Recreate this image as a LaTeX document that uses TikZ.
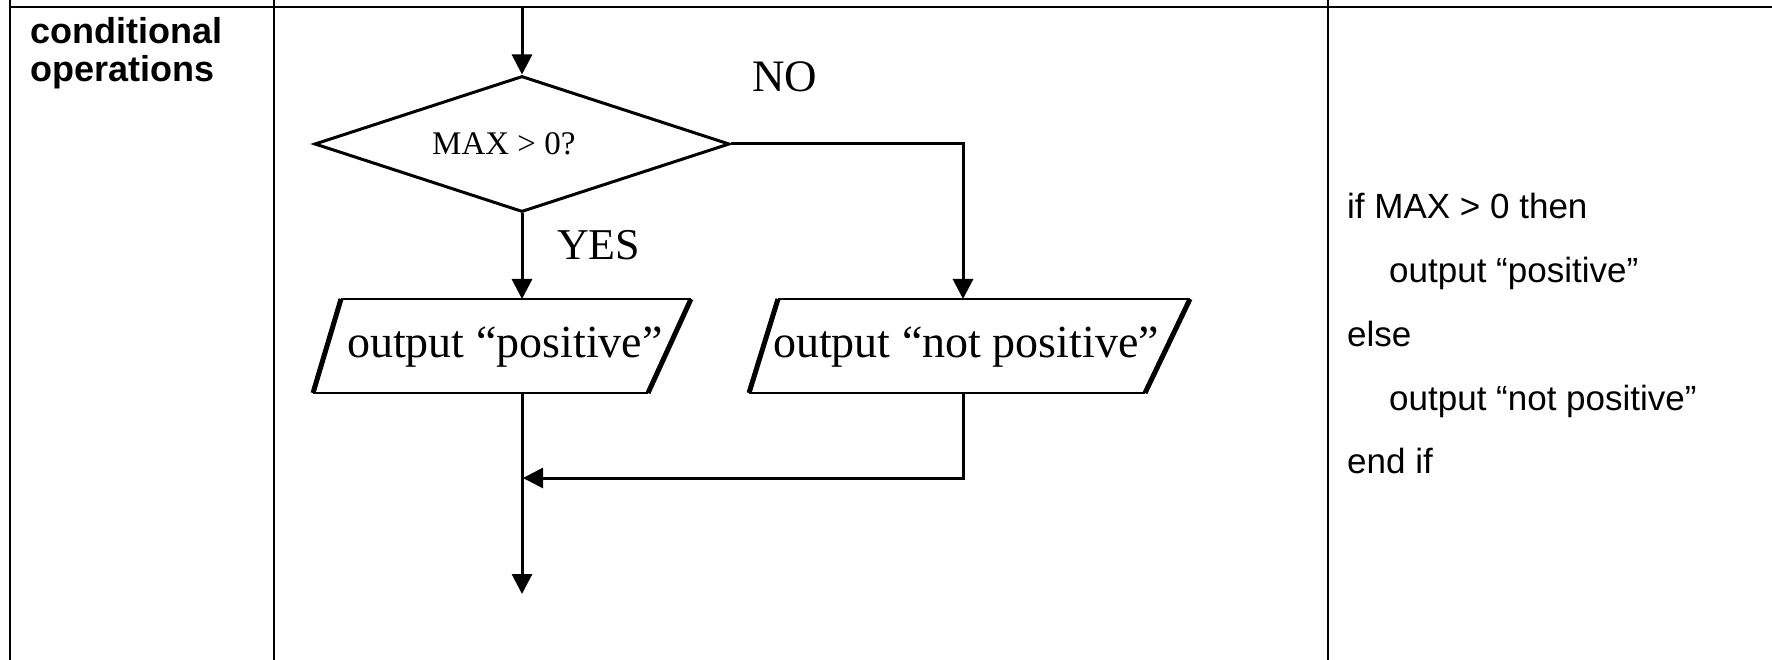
\documentclass[tikz,border=0pt]{standalone}
\usepackage{fontspec}
\setmainfont{Liberation Serif}
\newfontfamily\sansf{Liberation Sans}
\usetikzlibrary{arrows.meta,shapes.geometric}
\begin{document}
\begin{tikzpicture}[x=1pt,y=-1pt,
  rule/.style={line width=2pt, black},
  flow/.style={line width=3pt},
  arr/.style={flow, -{Triangle[length=20pt,width=20pt]}},
  boxedge/.style={line width=2.8pt},
  boxside/.style={line width=5pt},
  txt/.style={inner sep=0pt, anchor=base west},
  celltitle/.style={txt, font=\sansf\bfseries\fontsize{36}{40}\selectfont},
  code/.style={txt, font=\sansf\fontsize{35}{40}\selectfont},
  flowtext/.style={txt, font=\fontsize{46}{50}\selectfont},
  branch/.style={txt, font=\fontsize{44}{48}\selectfont},
]
\fill[white] (0,0) rectangle (1772,660);
\useasboundingbox (0,0) rectangle (1772,660);

% table rules
\draw[rule] (10,7.5) -- (1772,7.5);
\draw[rule] (10,0) -- (10,660);
\draw[rule] (274,0) -- (274,660);
\draw[rule] (1328,0) -- (1328,660);

% left cell
\node[celltitle] (t1) at (30,44) {conditional};
\node[celltitle] (t2) at (30,82) {operations};

% flowchart
\coordinate (entry) at (522,8);
\node[diamond, draw, flow, minimum width=415pt, minimum height=136pt, inner sep=0pt] (dec) at (522,144) {};
\node[txt, font=\fontsize{33}{38}\selectfont] (cond) at (432,155) {MAX > 0?};

% output boxes: outlines with heavier slanted sides
\draw[boxedge] (341,299) -- (691,299);
\draw[boxedge] (313,393) -- (648,393);
\draw[boxside] (313,393) -- (341,299);
\draw[boxside] (648,393) -- (691,299);
\node[flowtext] (pos) at (347,357) {output “positive”};

\draw[boxedge] (778,299) -- (1190,299);
\draw[boxedge] (749,393) -- (1145,393);
\draw[boxside] (749,393) -- (778,299);
\draw[boxside] (1145,393) -- (1190,299);
\node[flowtext] (neg) at (773,357) {output “not positive”};

\coordinate (posin) at (522,299);
\coordinate (posout) at (522,393);
\coordinate (negin) at (963,299);
\coordinate (negout) at (963,393);
\coordinate (join) at (523,478);
\coordinate (exit) at (522,594);

\draw[arr] (entry) -- (dec.north);
\draw[arr] (dec.south) -- (posin);
\draw[arr] (dec.east) -| (negin);
\draw[arr] (negout) |- (join);
\draw[arr] (posout) -- (exit);

\node[branch] (yes) at (557,260) {YES};
\node[branch, font=\fontsize{45}{48}\selectfont] (no) at (752,92) {NO};

% pseudocode cell
\node[code] (c1) at (1347,219) {if MAX > 0 then};
\node[code] (c2) at (1389,283) {output “positive”};
\node[code] (c3) at (1347,346) {else};
\node[code] (c4) at (1389,410) {output “not positive”};
\node[code] (c5) at (1347,473) {end if};
\end{tikzpicture}
\end{document}
